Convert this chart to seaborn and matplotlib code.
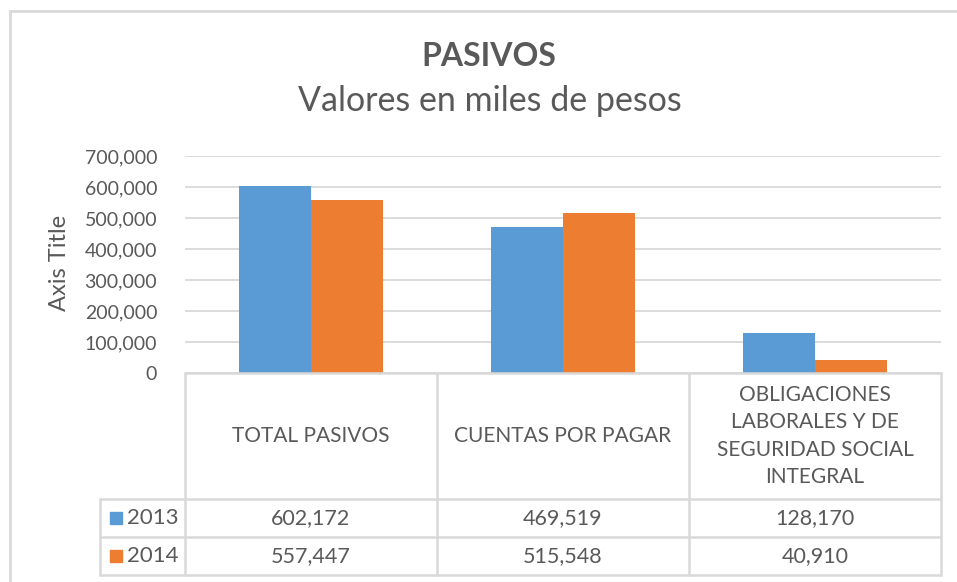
import matplotlib
matplotlib.use("Agg")
import matplotlib.pyplot as plt
from matplotlib.lines import Line2D
from matplotlib.patches import Rectangle
from matplotlib.ticker import FuncFormatter
import seaborn as sns
import pandas as pd

# data
categories = ["TOTAL PASIVOS", "CUENTAS POR PAGAR",
              "OBLIGACIONES\nLABORALES Y DE\nSEGURIDAD SOCIAL\nINTEGRAL"]
years = ["2013", "2014"]
values_2013 = [602172, 469519, 128170]
values_2014 = [557447, 515548, 40910]
colors = ["#5B9BD5", "#ED7D31"]

TEXT = "#595959"
GRID = "#D9D9D9"
W, H = 957, 582

sns.set_theme(style="white")
plt.rcParams["font.family"] = ["Lato", "DejaVu Sans"]

df = pd.DataFrame({
    "category": categories * 2,
    "year": [years[0]] * 3 + [years[1]] * 3,
    "value": values_2013 + values_2014,
})


def fx(x):
    return x / W


def fy(y):
    return 1 - y / H


fig = plt.figure(figsize=(W / 100, H / 100), dpi=100)
ax = fig.add_axes([fx(185), fy(373), fx(941 - 185), (373 - 156) / H])

sns.barplot(data=df, x="category", y="value", hue="year", hue_order=years,
            palette=colors, width=0.571, gap=0, saturation=1, legend=False,
            linewidth=0, ax=ax)

ax.set_ylim(0, 700000)
ax.set_xlim(-0.5, 2.5)
ax.set_yticks(range(0, 700001, 100000))
ax.yaxis.set_major_formatter(FuncFormatter(lambda v, p: "{:,.0f}".format(v)))
ax.tick_params(axis="y", length=0, pad=20, labelsize=14, labelcolor=TEXT)
ax.set_xticks([])
ax.set_xlabel("")
ax.set_ylabel("")
for s in ax.spines.values():
    s.set_visible(False)
ax.yaxis.grid(True, color=GRID, lw=1.3)
ax.set_axisbelow(True)

# chart frame
fig.add_artist(Line2D([fx(10), fx(10)], [fy(11), fy(600)], color=GRID, lw=2))
fig.add_artist(Line2D([fx(10), fx(1000)], [fy(11), fy(11)], color=GRID, lw=2))

# titles
fig.text(fx(489), fy(57), "PASIVOS", ha="center", va="center",
         fontsize=23, fontweight="bold", color=TEXT)
fig.text(fx(490), fy(101), "Valores en miles de pesos", ha="center", va="center",
         fontsize=24.5, color=TEXT)
fig.text(fx(60), fy(263), "Axis Title", ha="center", va="center", rotation=90,
         fontsize=17, color=TEXT)

# data table
col_x = [185, 437, 689, 941]
row_y = [373, 499, 537, 575]
for x in col_x:
    fig.add_artist(Line2D([fx(x), fx(x)], [fy(373), fy(575)], color=GRID, lw=1.8))
fig.add_artist(Line2D([fx(100), fx(100)], [fy(499), fy(575)], color=GRID, lw=1.8))
fig.add_artist(Line2D([fx(185), fx(941)], [fy(373), fy(373)], color=GRID, lw=1.8))
for y in row_y[1:]:
    fig.add_artist(Line2D([fx(100), fx(941)], [fy(y), fy(y)], color=GRID, lw=1.8))

for i, cat in enumerate(categories):
    cx = (col_x[i] + col_x[i + 1]) / 2
    fig.text(fx(cx), fy(436), cat, ha="center", va="center", fontsize=15,
             color=TEXT, linespacing=1.45)
    for r, vals in enumerate([values_2013, values_2014]):
        cy = (row_y[r + 1] + row_y[r + 2]) / 2
        fig.text(fx(cx), fy(cy), "{:,}".format(vals[i]), ha="center", va="center",
                 fontsize=15.5, color=TEXT)

for r, (yr, c) in enumerate(zip(years, colors)):
    cy = (row_y[r + 1] + row_y[r + 2]) / 2
    fig.add_artist(Rectangle((fx(110), fy(cy + 6)), fx(12), 12 / H, color=c))
    fig.text(fx(127), fy(cy), yr, ha="left", va="center", fontsize=16, color=TEXT)

fig.savefig("out.png", dpi=100)
